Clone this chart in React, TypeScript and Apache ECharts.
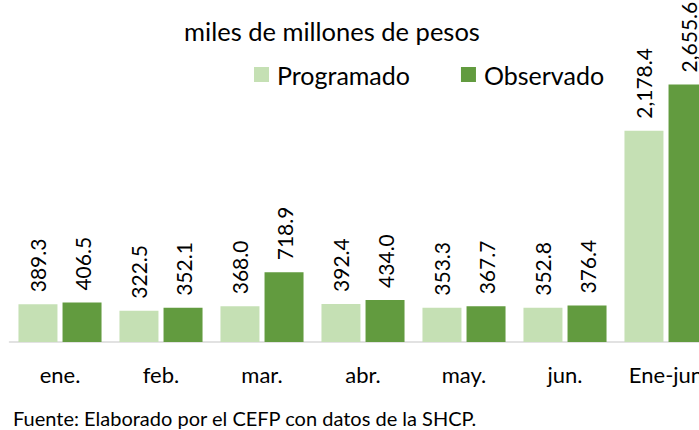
import React, { useEffect, useRef } from "react";
import * as echarts from "echarts";

const categories = ["ene.", "feb.", "mar.", "abr.", "may.", "jun.", "Ene-jun"];
const programado = [389.3, 322.5, 368.0, 392.4, 353.3, 352.8, 2178.4];
const observado = [406.5, 352.1, 718.9, 434.0, 367.7, 376.4, 2655.6];
const seriesNames = ["Programado", "Observado"];
const titleText = "miles de millones de pesos";
const footerText = "Fuente: Elaborado por el CEFP con datos de la SHCP.";

const FONT = "Lato, 'Noto Sans', sans-serif";

const fmt = (v: number) =>
  v.toLocaleString("en-US", { minimumFractionDigits: 1, maximumFractionDigits: 1 });

export default function App() {
  const ref = useRef<HTMLDivElement>(null);
  useEffect(() => {
    document.body.style.margin = "0";
    if (!ref.current) return;
    const chart = echarts.init(ref.current, undefined, { renderer: "svg" });
    const label = {
      show: true,
      position: "top",
      rotate: 90,
      align: "left",
      verticalAlign: "middle",
      distance: 12,
      fontSize: 21,
      fontFamily: FONT,
      color: "#000",
      formatter: (p: any) => fmt(p.value),
    };
    chart.setOption({
      animation: false,
      textStyle: { fontFamily: FONT },
      grid: {
        left: 9.5,
        width: 707,
        top: 51,
        bottom: 88,
        containLabel: false,
        outerBoundsMode: "none",
      },
      legend: {
        data: seriesNames,
        left: 254,
        top: 59.5,
        padding: 0,
        itemWidth: 15,
        itemHeight: 15,
        itemGap: 51,
        icon: "rect",
        textStyle: {
          fontSize: 25,
          fontFamily: FONT,
          color: "#000",
          lineHeight: 30,
          padding: [0, 0, 0, 3],
        },
      },
      xAxis: {
        type: "category",
        data: categories,
        axisLine: { show: true, lineStyle: { color: "#d9d9d9", width: 1.5 } },
        axisTick: { show: false },
        axisLabel: { fontSize: 22, fontFamily: FONT, color: "#000", margin: 21 },
      },
      yAxis: {
        type: "value",
        min: 0,
        max: 3000,
        show: false,
        splitLine: { show: false },
      },
      graphic: [
        {
          type: "text",
          x: 332,
          y: 31,
          style: {
            text: titleText,
            align: "center",
            verticalAlign: "middle",
            fontSize: 25.5,
            fontFamily: FONT,
            fill: "#000",
          },
        },
        {
          type: "text",
          x: 13,
          y: 418,
          style: {
            text: footerText,
            align: "left",
            verticalAlign: "middle",
            fontSize: 20,
            fontFamily: FONT,
            fill: "#000",
          },
        },
      ],
      series: [
        {
          name: seriesNames[0],
          type: "bar",
          data: programado,
          barWidth: 39,
          barGap: "13%",
          itemStyle: { color: "#c5e0b4" },
          label,
        },
        {
          name: seriesNames[1],
          type: "bar",
          data: observado,
          barWidth: 39,
          barGap: "13%",
          itemStyle: { color: "#629b3f" },
          label,
        },
      ],
    });
    return () => chart.dispose();
  }, []);
  return <div ref={ref} style={{ width: 699, height: 430 }} />;
}
